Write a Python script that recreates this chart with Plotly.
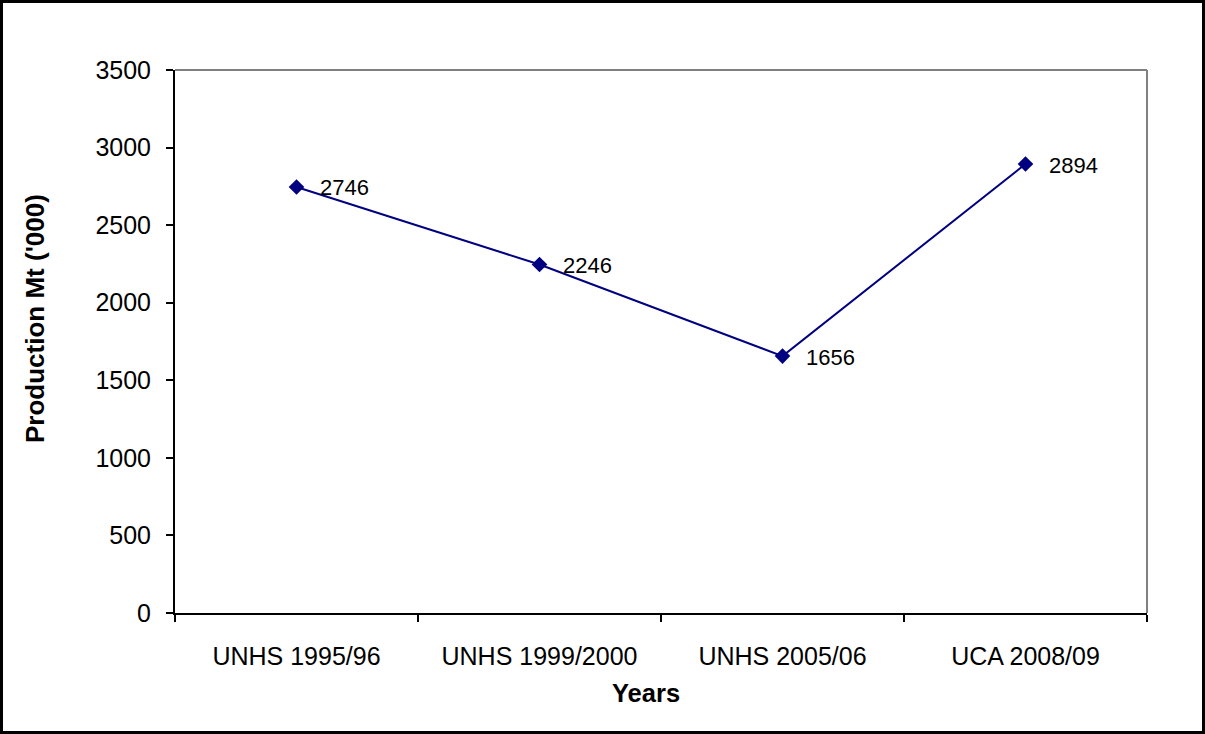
import plotly.graph_objects as go

# survey rounds and production values
surveys = ["UNHS 1995/96", "UNHS 1999/2000", "UNHS 2005/06", "UCA 2008/09"]
production = [2746, 2246, 1656, 2894]
y_ticks = [0, 500, 1000, 1500, 2000, 2500, 3000, 3500]

W, H = 1205, 734
L, R, T, B = 175, 58, 70, 121
pw, ph = W - L - R, H - T - B


def px_x(p):
    return (p - L) / pw


def px_y(p):
    return (H - B - p) / ph


FONT = "Liberation Sans, Arial, sans-serif"
navy = "#000080"

fig = go.Figure()
fig.add_trace(go.Scatter(
    x=surveys,
    y=production,
    mode="lines+markers",
    line={"color": navy, "width": 2},
    marker={"symbol": "diamond", "size": 12, "color": navy},
    showlegend=False,
    cliponaxis=False,
))

# data labels to the right of each point
for s, v in zip(surveys, production):
    fig.add_annotation(x=s, y=v, text=str(v), showarrow=False,
                       xanchor="left", yanchor="middle", xshift=21, yshift=-1,
                       font={"family": FONT, "size": 22, "color": "black"})

# axis titles
fig.add_annotation(x=px_x(646), y=px_y(693), xref="paper", yref="paper",
                   xanchor="center", yanchor="middle",
                   text="<b>Years</b>", showarrow=False,
                   font={"family": FONT, "size": 25.5, "color": "black"})
fig.add_annotation(x=px_x(35), y=px_y(319), xref="paper", yref="paper",
                   xanchor="center", yanchor="middle",
                   text="<b>Production Mt ('000)</b>", showarrow=False,
                   textangle=-90,
                   font={"family": FONT, "size": 26, "color": "black"})

# gray top/right border of plot area
fig.add_shape(type="line", xref="paper", yref="paper", x0=0, x1=1, y0=1, y1=1,
              line={"color": "#808080", "width": 2})
fig.add_shape(type="line", xref="paper", yref="paper", x0=1, x1=1, y0=0, y1=1,
              line={"color": "#808080", "width": 2})
# outer frame
fig.add_shape(type="rect", xref="paper", yref="paper",
              x0=px_x(1.5), x1=px_x(1203.5), y0=px_y(732.5), y1=px_y(1.5),
              line={"color": "black", "width": 3})

fig.update_xaxes(
    type="category", range=[-0.5, 3.5],
    showline=True, linecolor="black", linewidth=2,
    ticks="outside", tickson="boundaries", ticklen=7, tickwidth=2, tickcolor="black",
    ticklabelstandoff=20,
    showgrid=False, zeroline=False,
    tickfont={"family": FONT, "size": 25, "color": "black"},
)
fig.update_yaxes(
    range=[0, 3500], tickvals=y_ticks,
    showline=True, linecolor="black", linewidth=2,
    ticks="outside", ticklen=7, tickwidth=2, tickcolor="black",
    ticklabelstandoff=10,
    showgrid=False, zeroline=False,
    tickfont={"family": FONT, "size": 25, "color": "black"},
)
fig.update_layout(
    width=W, height=H,
    margin={"l": L, "r": R, "t": T, "b": B},
    paper_bgcolor="white", plot_bgcolor="white",
    font={"family": FONT, "color": "black"},
)

fig.write_html("out.html", config={"displayModeBar": False},
               post_script="document.body.style.margin='0';")
